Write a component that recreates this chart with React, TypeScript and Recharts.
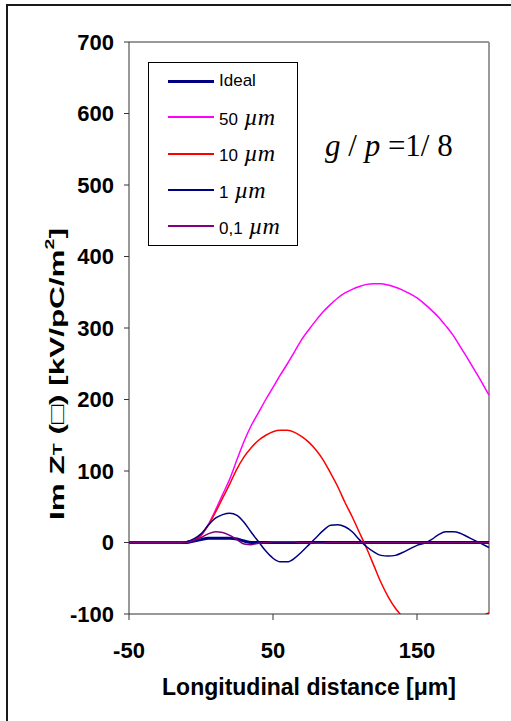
import React from 'react';
import { LineChart, Line, XAxis, YAxis, ReferenceLine, Legend } from 'recharts';

const FONT = '"Liberation Sans", Arial, sans-serif';
const SERIF = '"Liberation Serif", "Times New Roman", serif';

// longitudinal distance [um]
const xValues = [
  -50, -45, -40, -35, -30, -25, -20, -15, -10, -5, 0, 5, 10, 15, 20, 25, 30, 35, 40, 45, 50,
  55, 60, 65, 70, 75, 80, 85, 90, 95, 100, 105, 110, 115, 120, 125, 130, 135, 140, 145, 150,
  155, 160, 165, 170, 175, 180, 185, 190, 195, 200,
];

const ideal = [
  0, 0, 0, 0, 0, 0, 0, 0, 0, 2, 4, 6, 6, 6, 6, 5, 2, 0, 0, 0, 0,
  0, 0, 0, 0, 0, 0, 0, 0, 0, 0, 0, 0, 0, 0, 0, 0, 0, 0, 0, 0,
  0, 0, 0, 0, 0, 0, 0, 0, 0, 0,
];
const um50 = [
  0, 0, 0, 0, 0, 0, 0, 0, 1, 4, 10, 25, 45, 67, 89, 116, 142, 164, 182, 200, 217,
  234, 250, 267, 284, 298, 311, 323, 333, 342, 349, 354, 358, 361, 362, 362, 360, 357, 353, 348, 342,
  334, 325, 315, 303, 290, 274, 258, 241, 224, 206,
];
const um10 = [
  0, 0, 0, 0, 0, 0, 0, 0, 1, 4, 10, 24, 42, 62, 82, 103, 120, 133, 143, 150, 155,
  157, 157, 154, 148, 140, 129, 115, 97, 78, 56, 36, 14, -8, -32, -56, -76, -92, -104, -115, -125,
  -132, -136, -137, -135, -130, -122, -114, -108, -103, -98,
];
const um1 = [
  0, 0, 0, 0, 0, 0, 0, 0, 1, 5, 12, 24, 34, 39, 41, 38, 28, 14, 1, -12, -22,
  -27, -27, -22, -13, -3, 7, 17, 24, 25, 22, 15, 4, -6, -13, -18, -19, -18, -14, -9, -4,
  -1, 4, 11, 15, 15, 13, 8, 3, -2, -7,
];
const um01 = [
  0, 0, 0, 0, 0, 0, 0, 0, 0, 3, 7, 12, 15, 14, 10, 4, -2, -3, -1, 0, 1,
  1, 1, 1, 0, 0, -1, -1, 0, 0, 0, 0, 0, 0, 0, 0, 0, 0, 0, 0, 0,
  0, 0, 0, 0, 0, 0, 0, 0, 0, 0,
];

const seriesNames = ['Ideal', '50 µm', '10 µm', '1 µm', '0,1 µm'];
const seriesKeys = ['ideal', 'um50', 'um10', 'um1', 'um01'];
const seriesColors = ['#000080', '#ff00ff', '#ff0000', '#000080', '#800080'];
const seriesWidths = [3, 1.5, 1.5, 1.5, 1.5];
const xTicks = [-50, 50, 150];
const yTicks = [-100, 0, 100, 200, 300, 400, 500, 600, 700];

const data = xValues.map((x, i) => ({
  x,
  ideal: ideal[i],
  um50: um50[i],
  um10: um10[i],
  um1: um1[i],
  um01: um01[i],
}));

function LegendBox({ payload }: any) {
  const items = [...(payload || [])].sort(
    (a: any, b: any) => seriesNames.indexOf(a.value) - seriesNames.indexOf(b.value)
  );
  return (
    <div style={{ width: 150, height: 184, border: '1px solid #000', background: '#fff', boxSizing: 'border-box' }}>
      {items.map((p: any) => {
        const idx = seriesNames.indexOf(p.value);
        const [num, unit] = String(p.value).split(' ');
        return (
          <div key={p.value} style={{ display: 'flex', alignItems: 'center', height: 36.3 }}>
            <div style={{ marginLeft: 19, width: 46, height: seriesWidths[idx] > 2 ? 3 : 2, background: seriesColors[idx] }} />
            <span style={{ marginLeft: 5, fontFamily: FONT, fontSize: 17, color: '#000', whiteSpace: 'nowrap' }}>
              {num}
              {unit && (
                <span style={{ fontFamily: SERIF, fontStyle: 'italic', fontSize: 24 }}> {unit}</span>
              )}
            </span>
          </div>
        );
      })}
    </div>
  );
}

function YTitle() {
  // axis title, stretched along its length like the original
  return (
    <text
      transform="translate(57 374) rotate(-90) scale(1.5 1)"
      textAnchor="middle"
      dominantBaseline="central"
      fontFamily={FONT}
      fontWeight="bold"
      fontSize={21}
      fill="#000"
    >
      Im Z<tspan fontSize={13}>T</tspan> (□) [kV/pC/m<tspan fontSize={13} dy={-8}>2</tspan>
      <tspan dy={8}>]</tspan>
    </text>
  );
}

export default function App() {
  const tick = { fontSize: 22, fontWeight: 'bold', fill: '#000', fontFamily: FONT };
  return (
    <div style={{ position: 'absolute', left: 0, top: 0, width: 511, height: 721, background: '#fff', overflow: 'hidden' }}>
      <div style={{ position: 'absolute', left: 6, top: 4, right: 0, bottom: 0, borderLeft: '2px solid #1a1a1a', borderTop: '2px solid #1a1a1a' }} />
      <LineChart
        width={511}
        height={721}
        data={data}
        margin={{ top: 42, right: 22, bottom: 0, left: 0 }}
        style={{ position: 'absolute', left: 0, top: 0 }}
      >
        <XAxis
          dataKey="x"
          type="number"
          domain={[-50, 200]}
          ticks={xTicks}
          height={107}
          tickSize={6}
          tickMargin={22}
          axisLine={{ stroke: '#333' }}
          tickLine={{ stroke: '#333' }}
          tick={tick}
          label={{
            value: 'Longitudinal distance [μm]',
            position: 'insideTop',
            offset: 65,
            style: { fontSize: 23, fontWeight: 'bold', fill: '#000', fontFamily: FONT },
          }}
        />
        <YAxis
          type="number"
          domain={[-100, 700]}
          ticks={yTicks}
          allowDataOverflow
          width={129}
          tickSize={5}
          tickMargin={10}
          axisLine={{ stroke: '#333' }}
          tickLine={{ stroke: '#333' }}
          tick={tick}
          label={<YTitle />}
        />
        <ReferenceLine y={700} stroke="#9a9a9a" strokeWidth={2} />
        <ReferenceLine x={200} stroke="#9a9a9a" strokeWidth={2} />
        <Legend
          layout="vertical"
          align="center"
          verticalAlign="middle"
          content={<LegendBox />}
          wrapperStyle={{ left: 148, top: 62, width: 150, height: 184 }}
        />
        {seriesKeys.map((k, i) => (
          <Line
            key={k}
            name={seriesNames[i]}
            dataKey={k}
            type="monotone"
            stroke={seriesColors[i]}
            strokeWidth={seriesWidths[i]}
            dot={false}
            isAnimationActive={false}
          />
        ))}
      </LineChart>
      <div style={{ position: 'absolute', left: 325, top: 130, fontFamily: SERIF, fontSize: 31, color: '#000', whiteSpace: 'nowrap', lineHeight: 1 }}>
        <i>g</i> / <i>p</i> =1/ 8
      </div>
    </div>
  );
}
